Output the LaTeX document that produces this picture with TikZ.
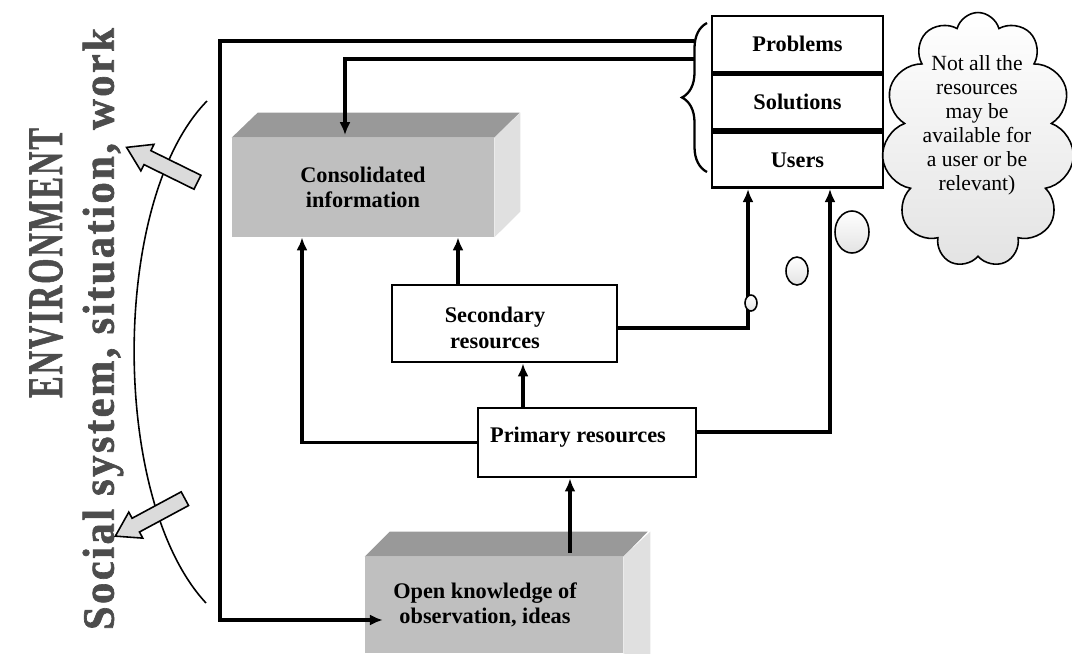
\documentclass[tikz,border=0pt]{standalone}
\usepackage{fontspec}
\setmainfont{Liberation Serif}
\newfontfamily\widefont[LetterSpace=6, FakeBold=1.5]{Liberation Serif}
\usetikzlibrary{arrows.meta,shapes.symbols,shapes.arrows,shapes.geometric,decorations.pathreplacing}
\tikzset{
  box/.style={draw, line width=1.6pt, fill=white, inner sep=0pt},
  lbl/.style={font=\bfseries\fontsize{12.7}{14.5}\selectfont, align=center, inner sep=0.2cm},
  face/.style={fill=gray!50, inner sep=0pt},
  link/.style={line width=1.9pt, -{Latex[length=0.26cm,width=0.22cm]}},
  bubble/.style={draw, line width=0.9pt, top color=white, bottom color=gray!22, inner sep=0pt},
  bigarrow/.style={single arrow, draw, line width=0.9pt, fill=gray!28, inner sep=0.14cm,
    single arrow head extend=0.14cm, single arrow tip angle=65, minimum height=1.58cm}
}
\begin{document}
\begin{tikzpicture}[x=0.02cm, y=-0.02cm]
\useasboundingbox (0,0) rectangle (1072,653);
\clip (0,0) rectangle (1072,653);

% environment
\node[rotate=90, text=black!70, inner sep=0pt] (env) at (46,263)
  {\resizebox{5.4cm}{0.66cm}{\widefont\bfseries ENVIRONMENT}};
\node[rotate=90, text=black!70, inner sep=0pt] (soc) at (103,329)
  {\resizebox{12.04cm}{0.62cm}{\widefont\bfseries Social system, situation, work}};
\draw[line width=0.9pt] (207,101) .. controls (110,200) and (110,500) .. (206,603);
\node[bigarrow, rotate=153.8] (outup) at (167.5,167.5) {};
\node[bigarrow, rotate=208.3] (outdown) at (155.5,514.5) {};

% problems / solutions / users
\node[box, minimum width=3.42cm, minimum height=1.12cm, font=\bfseries\fontsize{12.7}{14.5}\selectfont] (prob) at (797.5,44) {Problems};
\node[box, minimum width=3.42cm, minimum height=1.1cm, anchor=north, font=\bfseries\fontsize{12.7}{14.5}\selectfont] (sol) at (prob.south) {Solutions};
\node[box, minimum width=3.42cm, minimum height=1.1cm, anchor=north, font=\bfseries\fontsize{12.7}{14.5}\selectfont] (users) at (sol.south) {Users};
\draw[line width=1.3pt, decorate, decoration={brace, amplitude=0.5cm}] (707,172) -- (707,23);
\coordinate (b1) at (694,41);
\coordinate (b2) at (694,59);
\coordinate (lt) at (220,41);
\coordinate (lb) at (220,620);

% cloud
\node[cloud, bubble, cloud puffs=11, cloud ignores aspect, minimum width=3.85cm, minimum height=5.1cm] (note) at (978,140) {};
\node[align=center, font=\fontsize{12.3}{13.7}\selectfont] (notetext) at (977,125)
  {Not all the\\resources\\may be\\available for\\a user or be\\relevant)};
\node[bubble, ellipse, minimum width=0.68cm, minimum height=0.84cm] (bub3) at (852,232) {};
\node[bubble, ellipse, minimum width=0.44cm, minimum height=0.56cm] (bub2) at (797,271) {};

% consolidated information
\node[face, minimum width=5.24cm, minimum height=1.98cm, lbl] (cons) at (363,187.5) {Consolidated\\information};
\fill[gray!80] (cons.north west) -- ++(26,-25) -- ++(262,0) -- (cons.north east) -- cycle;
\fill[gray!24] (cons.north east) -- ++(26,-25) -- ++(0,99) -- (cons.south east) -- cycle;

% open knowledge
\node[face, minimum width=5.16cm, minimum height=1.92cm] (open) at (494,605) {};
\fill[gray!80] (open.north west) -- ++(25,-25) -- ++(258,0) -- (open.north east) -- cycle;
\fill[gray!24] (open.north east) -- ++(27,-25) -- ++(0,130) -- (open.south east) -- cycle;
\node[lbl] (opentext) at (485,605) {Open knowledge of\\observation, ideas};
\coordinate (otop) at (570,553);

% resources
\node[box, minimum width=4.5cm, minimum height=1.54cm] (sec) at (504.5,323.5) {};
\node[lbl] (sectext) at ([xshift=-0.19cm, yshift=-0.09cm]sec.center) {Secondary\\resources};
\node[box, minimum width=4.36cm, minimum height=1.38cm] (prim) at (587,442.5) {};
\node[lbl] (primtext) at ([xshift=-0.18cm, yshift=0.11cm]prim.center) {Primary resources};

% connectors
\draw[link] (b1) -- (lt) -- (lb) -- (lb -| opentext.west);
\draw[link] (b2) -| ([xshift=-0.36cm, yshift=0.05cm]cons.north);
\draw[link] (prim.west) -| ([xshift=-1.22cm]cons.south);
\draw[link] ([xshift=-0.93cm]sec.north) -- ([xshift=-0.93cm]sec.north |- cons.south);
\draw[link] ([xshift=-1.28cm]prim.north) -- ([xshift=-1.28cm]prim.north |- sec.south);
\draw[link] (otop) -- (otop |- prim.south);
\draw[link] ([yshift=-0.09cm]sec.east) -| ([xshift=-0.99cm]users.south);
\draw[link] ([yshift=0.21cm]prim.east) -| ([xshift=0.65cm]users.south);
\node[bubble, ellipse, minimum width=0.24cm, minimum height=0.32cm] (bub1) at (751,303) {};
\end{tikzpicture}
\end{document}
